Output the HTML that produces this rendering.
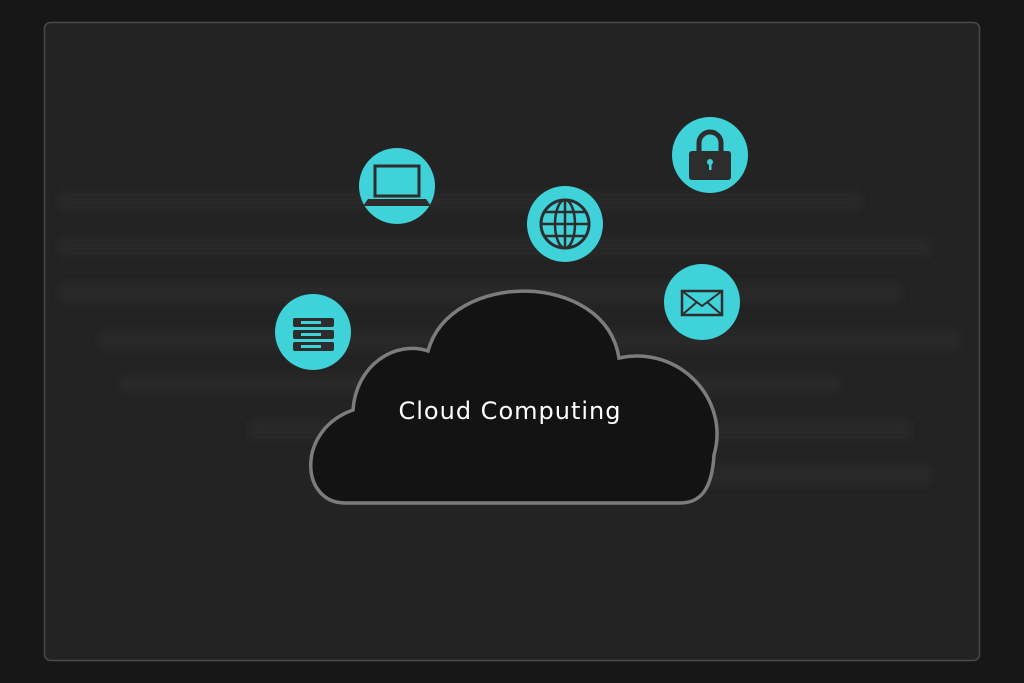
<!DOCTYPE html>
<html><head><meta charset="utf-8"><style>
html,body{margin:0;padding:0;background:#171717;width:1024px;height:683px;overflow:hidden}
</style></head><body>
<svg width="1024" height="683" viewBox="0 0 1024 683" xmlns="http://www.w3.org/2000/svg">
<defs><filter id="b"><feGaussianBlur stdDeviation="4"/></filter></defs>
<rect x="0" y="0" width="1024" height="683" fill="#171717"/>
<rect x="44.5" y="22.5" width="935" height="638" rx="6" fill="#232323" stroke="#4a4a4a" stroke-width="1.5"/>
<g fill="#2b2b2b" filter="url(#b)" opacity="0.8">
<rect x="60" y="192" width="800" height="18"/>
<rect x="60" y="238" width="870" height="18"/>
<rect x="60" y="283" width="840" height="20"/>
<rect x="100" y="330" width="860" height="20"/>
<rect x="120" y="375" width="720" height="18"/>
<rect x="250" y="420" width="660" height="20"/>
<rect x="560" y="465" width="370" height="20"/>
</g>
<path d="M345 503 C300 503 296 430 353 410 C356 365 395 340 428 351 C450 270 605 270 619 358 C680 345 730 400 714 455 C712 490 700 503 680 503 Z" fill="#131313" stroke="#7c7c7c" stroke-width="3.5"/>
<text x="510" y="419" fill="#ffffff" font-family="DejaVu Sans, sans-serif" font-size="24" letter-spacing="1" text-anchor="middle">Cloud Computing</text>
<g fill="#3fd2d8">
<circle cx="397" cy="186" r="38"/>
<circle cx="565" cy="224" r="38"/>
<circle cx="710" cy="155" r="38"/>
<circle cx="702" cy="302" r="38"/>
<circle cx="313" cy="332" r="38"/>
</g>
<g fill="#2d2d2d" stroke="#2d2d2d">
<rect x="375" y="166" width="44" height="30" fill="none" stroke-width="3"/>
<path d="M368 199 L426 199 L431 206 L363 206 Z" stroke="none"/>
<circle cx="565" cy="224" r="24" fill="none" stroke-width="3"/>
<ellipse cx="565" cy="224" rx="10" ry="24" fill="none" stroke-width="2.5"/>
<line x1="565" y1="200" x2="565" y2="248" stroke-width="2.5"/>
<line x1="541" y1="224" x2="589" y2="224" stroke-width="2.5"/>
<line x1="545" y1="212" x2="585" y2="212" stroke-width="2.5"/>
<line x1="545" y1="236" x2="585" y2="236" stroke-width="2.5"/>
<path d="M699 152 V143 A11 11 0 0 1 721 143 V152" fill="none" stroke-width="5"/>
<rect x="689" y="151" width="42" height="29" rx="3" stroke="none"/>
<circle cx="710" cy="162" r="3" fill="#3fd2d8" stroke="none"/>
<rect x="709" y="162" width="2.5" height="8" fill="#3fd2d8" stroke="none"/>
<rect x="682" y="291" width="40" height="24" fill="none" stroke-width="2.5"/>
<path d="M682 291 L702 306 L722 291 M682 315 L697 302 M722 315 L707 302" fill="none" stroke-width="2"/>
<rect x="293" y="318" width="41" height="9" rx="2" stroke="none"/>
<rect x="293" y="330" width="41" height="9" rx="2" stroke="none"/>
<rect x="293" y="342" width="41" height="9" rx="2" stroke="none"/>
</g>
<g fill="#3fd2d8">
<rect x="301" y="321" width="20" height="3"/><rect x="301" y="333" width="20" height="3"/><rect x="301" y="345" width="20" height="3"/>
</g>
</svg>
</body></html>
